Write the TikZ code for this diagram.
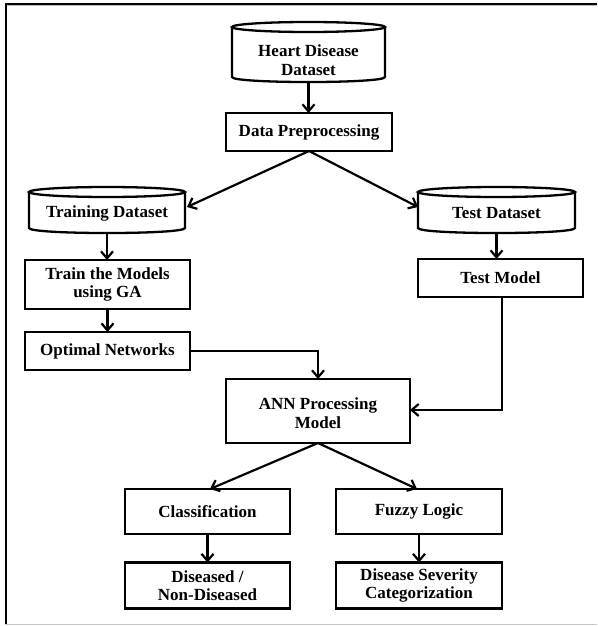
\documentclass[tikz,border=0pt]{standalone}
\usepackage{fontspec}
\setmainfont{Liberation Serif}
\usetikzlibrary{arrows.meta,positioning}
\begin{document}
\begin{tikzpicture}[x=1pt,y=-1pt,
  ln/.style={line width=2.3pt,draw=black},
  stepbox/.style={draw=black,line width=2.3pt,rectangle,minimum width=165pt,minimum height=38pt,inner sep=0pt,outer sep=0pt},
  cylbody/.style={draw=none,rectangle,inner sep=0pt,outer sep=0pt},
  txt/.style={align=center,inner sep=0pt,font=\fontsize{17pt}{18.5pt}\selectfont\bfseries},
  conn/.style={line width=2.2pt,-{Straight Barb[length=7pt,width=12pt]}},
  plain/.style={line width=2.2pt}]
\useasboundingbox (0,0) rectangle (597,626);
% frame
\draw[line width=2pt] (5,4) -- (597,4);
\draw[line width=0.8pt,draw=black!25] (5,5.6) -- (597,5.6);
\draw[line width=2.4pt] (6,3) -- (6,624);
\draw[line width=1.6pt,draw=black!22] (5,624.5) -- (597,624.5);

% cylinders (outline shapes)
\draw[ln,fill=white] (232,27) -- (232,77) .. controls (232,83.7) and (385,83.7) .. (385,77) -- (385,27);
\draw[ln] (308.5,27) ellipse [x radius=76.5, y radius=5];
\draw[ln,fill=white] (29,192) -- (29,228) .. controls (29,234.7) and (185,234.7) .. (185,228) -- (185,192);
\draw[ln] (107,192) ellipse [x radius=78, y radius=5];
\draw[ln,fill=white] (418,192) -- (418,228) .. controls (418,234.7) and (575,234.7) .. (575,228) -- (575,192);
\draw[ln] (496.5,192) ellipse [x radius=78.5, y radius=5];

% cylinder nodes
\node[cylbody,minimum width=153pt,minimum height=60pt] (hd) at (308.5,52) {};
\node[txt] (hdt) at (308.5,60) {Heart Disease\\Dataset};
\node[cylbody,minimum width=156pt,minimum height=46pt] (tr) at (107,210) {};
\node[txt] (trt) at (107,213) {Training Dataset};
\node[cylbody,minimum width=157pt,minimum height=46pt] (ts) at (496.5,210) {};
\node[txt] (tst) at (496.5,213) {Test Dataset};

% boxes
\node[stepbox,minimum width=166pt] (dp) at (309,132) {};
\node[txt] at (dp.center) {Data Preprocessing};
\node[stepbox,minimum height=49pt] (trn) at (107.5,284.5) {};
\node[txt] at (trn.center) {Train the Models\\using GA};
\node[stepbox] (opt) at (107.5,351) {};
\node[txt] at (opt.center) {Optimal Networks};
\node[stepbox] (tm) at (500.5,278) {};
\node[txt] at (tm.center) {Test Model};
\node[stepbox,minimum width=184pt,minimum height=64pt] (ann) at (318,411) {};
\node[txt] at ([yshift=-2pt]ann.center) {ANN Processing\\Model};
\node[stepbox,minimum height=45pt] (cls) at (207.5,511.5) {};
\node[txt] at (cls.center) {Classification};
\node[stepbox,minimum width=166pt,minimum height=45pt] (fz) at (419,511.5) {};
\node[txt] at (fz.center) {Fuzzy Logic};
\node[stepbox,minimum height=46pt] (dis) at (207.5,585.5) {};
\node[txt] at (dis.center) {Diseased /\\Non-Diseased};
\node[stepbox,minimum width=166pt,minimum height=46pt] (sev) at (419,585.5) {};
\node[txt] at (sev.center) {Disease Severity\\Categorization};

% connectors
\draw[conn] (hd.south) -- (hd.south |- dp.north);
\draw[conn] (dp.south) -- ([yshift=3pt,xshift=2pt]tr.east);
\draw[conn] (dp.south) -- ([yshift=3pt]ts.west);
\draw[conn] (tr.south) -- (tr.south |- trn.north);
\draw[conn] (trn.south) -- (opt.north);
\draw[conn] (ts.south) -- (ts.south |- tm.north);
\draw[conn] (opt.east) -| (ann.north);
\draw[conn] ([xshift=1.5pt]tm.south) |- ([yshift=1pt]ann.east);
\draw[conn] (ann.south) -- ([xshift=2.5pt]cls.north);
\draw[conn] (ann.south) -- ([xshift=-2pt]fz.north);
\draw[conn] (cls.south) -- (dis.north);
\draw[conn] (fz.south) -- (sev.north);
\end{tikzpicture}
\end{document}
